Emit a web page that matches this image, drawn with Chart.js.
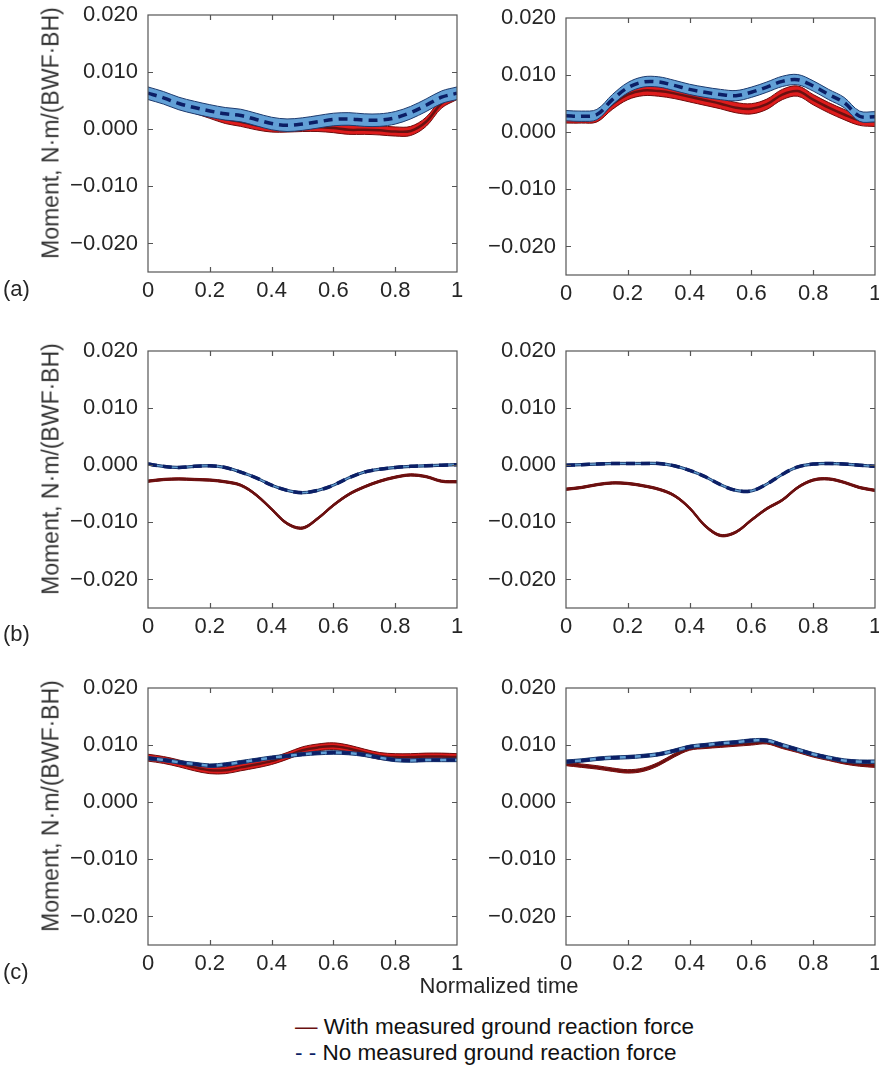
<!DOCTYPE html>
<html>
<head>
<meta charset="utf-8">
<script src="https://cdn.jsdelivr.net/npm/chart.js@4.4.1/dist/chart.umd.min.js"></script>
<style>
  html, body { margin: 0; padding: 0; background: #fff; overflow: hidden; }
  body { width: 879px; height: 1070px; position: relative; font-family: 'Liberation Sans', Arial, sans-serif; color: #262626; }
  .panel { position: absolute; }
  .ytitle { position: absolute; font-size: 23px; white-space: nowrap; transform: translate(-50%, -50%) rotate(-90deg); color: #333; }
  .plabel { position: absolute; font-size: 22px; transform: translateY(-50%); }
  .xtitle { position: absolute; font-size: 22px; transform: translate(-50%, -50%); }
  .legend { position: absolute; left: 295px; font-size: 22.5px; line-height: 26px; color: #111; }
</style>
</head>
<body>
<script>
// time axis and ticks
const timeSteps = [0, 0.05, 0.1, 0.15, 0.2, 0.25, 0.3, 0.35, 0.4, 0.45, 0.5, 0.55, 0.6, 0.65, 0.7, 0.75, 0.8, 0.85, 0.9, 0.95, 1];
const xTickValues = [0, 0.2, 0.4, 0.6, 0.8, 1];
const yTickValues = [-0.02, -0.01, 0, 0.01, 0.02];
const panelLabels = ['(a)', '(b)', '(c)'];
const yTitle = 'Moment, N\u00b7m/(BWF\u00b7BH)';
const xTitle = 'Normalized time';
const legendLabels = ['With measured ground reaction force', 'No measured ground reaction force'];

// mean curves - with measured GRF (red) / no measured GRF (blue)
const withGrfA1 = [0.0062, 0.0054, 0.0044, 0.0036, 0.0027, 0.0018, 0.0013, 0.0007, 0.0003, 0.0003, 0.0004, 0.0004, 0.0002, -0.0001, -0.0001, -0.0002, -0.0004, -0.0003, 0.0013, 0.0045, 0.0060];
const noGrfA1   = [0.0063, 0.0055, 0.0045, 0.0038, 0.0032, 0.0027, 0.0024, 0.0017, 0.0010, 0.0007, 0.0009, 0.0013, 0.0017, 0.0018, 0.0016, 0.0016, 0.0020, 0.0029, 0.0042, 0.0056, 0.0063];
const withGrfA2 = [0.0025, 0.0025, 0.0027, 0.0049, 0.0066, 0.0073, 0.0072, 0.0068, 0.0062, 0.0056, 0.0050, 0.0043, 0.0041, 0.0049, 0.0066, 0.0072, 0.0057, 0.0043, 0.0031, 0.0021, 0.0019];
const noGrfA2   = [0.0029, 0.0028, 0.0031, 0.0057, 0.0078, 0.0088, 0.0088, 0.0082, 0.0075, 0.0070, 0.0066, 0.0064, 0.0070, 0.0079, 0.0089, 0.0092, 0.0081, 0.0066, 0.0052, 0.0028, 0.0027];
const withGrfB1 = [-0.0028, -0.0025, -0.0024, -0.0025, -0.0026, -0.0029, -0.0035, -0.0052, -0.0077, -0.0102, -0.0110, -0.0093, -0.0070, -0.0051, -0.0038, -0.0028, -0.0021, -0.0017, -0.0020, -0.0028, -0.0029];
const noGrfB1   = [0.0002, -0.0002, -0.0004, -0.0002, -0.0001, -0.0004, -0.0012, -0.0022, -0.0035, -0.0044, -0.0048, -0.0044, -0.0035, -0.0022, -0.0012, -0.0007, -0.0004, -0.0002, -0.0001, 0.0000, 0.0001];
const withGrfB2 = [-0.0042, -0.0039, -0.0034, -0.0031, -0.0032, -0.0036, -0.0042, -0.0053, -0.0075, -0.0106, -0.0123, -0.0117, -0.0096, -0.0076, -0.0061, -0.0039, -0.0026, -0.0024, -0.0030, -0.0039, -0.0044];
const noGrfB2   = [0.0000, 0.0001, 0.0002, 0.0003, 0.0003, 0.0003, 0.0003, -0.0001, -0.0009, -0.0020, -0.0034, -0.0044, -0.0045, -0.0033, -0.0016, -0.0003, 0.0002, 0.0003, 0.0002, 0.0000, -0.0002];
const withGrfC1 = [0.0078, 0.0074, 0.0068, 0.0061, 0.0056, 0.0056, 0.0061, 0.0066, 0.0072, 0.0081, 0.0091, 0.0096, 0.0098, 0.0094, 0.0087, 0.0081, 0.0079, 0.0079, 0.0080, 0.0080, 0.0079];
const noGrfC1   = [0.0077, 0.0074, 0.0070, 0.0067, 0.0064, 0.0066, 0.0070, 0.0074, 0.0078, 0.0081, 0.0084, 0.0086, 0.0087, 0.0086, 0.0083, 0.0078, 0.0074, 0.0073, 0.0074, 0.0074, 0.0074];
const withGrfC2 = [0.0067, 0.0064, 0.0061, 0.0057, 0.0054, 0.0057, 0.0067, 0.0082, 0.0094, 0.0097, 0.0099, 0.0101, 0.0103, 0.0105, 0.0097, 0.0090, 0.0082, 0.0076, 0.0070, 0.0066, 0.0064];
const noGrfC2   = [0.0071, 0.0073, 0.0076, 0.0078, 0.0079, 0.0081, 0.0084, 0.0090, 0.0097, 0.0100, 0.0103, 0.0105, 0.0108, 0.0108, 0.0100, 0.0092, 0.0084, 0.0078, 0.0073, 0.0071, 0.0071];

// band half widths (a-left, a-right, b-left, b-right, c-left, c-right)
const bandWithGrf = [0.0008, 0.0009, 0.0002, 0.0002, 0.0006, 0.0003];
const bandNoGrf   = [0.0011, 0.0009, 0.0002, 0.0002, 0.0003, 0.0003];

const RED_FILL = 'rgb(222, 28, 28)';
const RED_EDGE = '#6e0b0b';
const RED_LINE = '#6a1010';
const BLUE_FILL = 'rgb(98, 160, 214)';
const BLUE_EDGE = '#1c3a6e';
const BLUE_LINE = '#0c1f66';
const FONT = "'Liberation Sans', Arial, sans-serif";
const PLOT_H = 257;

const panels = [
    { row: 0, col: 0, top: 15,  withGrf: withGrfA1, noGrf: noGrfA1 },
    { row: 0, col: 1, top: 18,  withGrf: withGrfA2, noGrf: noGrfA2 },
    { row: 1, col: 0, top: 351, withGrf: withGrfB1, noGrf: noGrfB1 },
    { row: 1, col: 1, top: 351, withGrf: withGrfB2, noGrf: noGrfB2 },
    { row: 2, col: 0, top: 688, withGrf: withGrfC1, noGrf: noGrfC1 },
    { row: 2, col: 1, top: 688, withGrf: withGrfC2, noGrf: noGrfC2 }
];

function pts(arr, off) {
    return timeSteps.map((t, i) => ({ x: t, y: arr[i] + off }));
}

function fmtY(v) {
    const s = Math.abs(v).toFixed(3);
    return v < -1e-9 ? '\u2212' + s : s;
}

function fmtX(v) {
    if (v === 0) return '0';
    if (v === 1) return '1';
    return v.toFixed(1);
}

// box + inward ticks like MATLAB axes
const boxPlugin = {
    id: 'boxTicks',
    afterDatasetsDraw(chart) {
        const { ctx, chartArea: a, scales } = chart;
        ctx.save();
        ctx.strokeStyle = '#555';
        ctx.lineWidth = 1.2;
        ctx.strokeRect(a.left, a.top, a.right - a.left, a.bottom - a.top);
        ctx.beginPath();
        for (const t of scales.x.ticks) {
            const px = Math.round(scales.x.getPixelForValue(t.value)) + 0.5;
            if (px <= a.left + 1 || px >= a.right - 1) continue;
            ctx.moveTo(px, a.bottom); ctx.lineTo(px, a.bottom - 5);
            ctx.moveTo(px, a.top); ctx.lineTo(px, a.top + 5);
        }
        for (const t of scales.y.ticks) {
            const py = Math.round(scales.y.getPixelForValue(t.value)) + 0.5;
            if (py <= a.top + 1 || py >= a.bottom - 1) continue;
            ctx.moveTo(a.left, py); ctx.lineTo(a.left + 5, py);
            ctx.moveTo(a.right, py); ctx.lineTo(a.right - 5, py);
        }
        ctx.stroke();
        ctx.restore();
    }
};

panels.forEach((p, idx) => {
    const left = p.col === 0 ? 0 : 480;
    const width = p.col === 0 ? 470 : 399;
    const yWidth = p.col === 0 ? 148 : 86;
    const padRight = p.col === 0 ? 13 : 4;
    const padTop = 14;

    const div = document.createElement('div');
    div.className = 'panel';
    div.style.left = left + 'px';
    div.style.top = (p.top - padTop) + 'px';
    div.style.width = width + 'px';
    div.style.height = (padTop + PLOT_H + 42) + 'px';
    const canvas = document.createElement('canvas');
    div.appendChild(canvas);
    document.body.appendChild(div);

    const bw = bandWithGrf[idx];
    const bn = bandNoGrf[idx];
    const common = { pointRadius: 0, tension: 0.35 };

    new Chart(canvas, {
        type: 'line',
        data: {
            datasets: [
                { ...common, data: pts(p.withGrf, bw), borderColor: RED_EDGE, borderWidth: 1, backgroundColor: RED_FILL, fill: 1, order: 6 },
                { ...common, data: pts(p.withGrf, -bw), borderColor: RED_EDGE, borderWidth: 1, fill: false, order: 5 },
                { ...common, data: pts(p.withGrf, 0), borderColor: RED_LINE, borderWidth: 2.5, fill: false, order: 4 },
                { ...common, data: pts(p.noGrf, bn), borderColor: BLUE_EDGE, borderWidth: 1, backgroundColor: BLUE_FILL, fill: 4, order: 3 },
                { ...common, data: pts(p.noGrf, -bn), borderColor: BLUE_EDGE, borderWidth: 1, fill: false, order: 2 },
                { ...common, data: pts(p.noGrf, 0), borderColor: BLUE_LINE, borderWidth: 3.5, borderDash: [9, 6], fill: false, order: 1 }
            ]
        },
        options: {
            responsive: true,
            maintainAspectRatio: false,
            animation: false,
            events: [],
            layout: { padding: { top: padTop, right: padRight, left: 0, bottom: 0 } },
            plugins: { legend: { display: false }, tooltip: { enabled: false } },
            scales: {
                x: {
                    type: 'linear', min: 0, max: 1,
                    grid: { display: false, drawTicks: false },
                    border: { display: false },
                    afterBuildTicks: s => { s.ticks = xTickValues.map(v => ({ value: v })); },
                    afterFit: s => { s.height = 42; s.paddingLeft = 0; s.paddingRight = 0; },
                    ticks: { padding: 6, maxRotation: 0, autoSkip: false, color: '#262626',
                        font: { family: FONT, size: 22 }, callback: v => fmtX(v) }
                },
                y: {
                    type: 'linear', min: -0.025, max: 0.02,
                    grid: { display: false, drawTicks: false },
                    border: { display: false },
                    afterBuildTicks: s => { s.ticks = yTickValues.map(v => ({ value: v })); },
                    afterFit: s => { s.width = yWidth; s.paddingTop = 0; s.paddingBottom = 0; },
                    ticks: { padding: 10, autoSkip: false, color: '#262626',
                        font: { family: FONT, size: 22 }, callback: v => fmtY(v) }
                }
            }
        },
        plugins: [boxPlugin]
    });

    if (p.col === 0) {
        const t = document.createElement('div');
        t.className = 'ytitle';
        t.textContent = yTitle;
        t.style.left = '51px';
        t.style.top = (p.top + PLOT_H / 2 - 11) + 'px';
        document.body.appendChild(t);
    }
});

// panel letters
[289, 634, 972].forEach((y, i) => {
    const l = document.createElement('div');
    l.className = 'plabel';
    l.textContent = panelLabels[i];
    l.style.left = '3px';
    l.style.top = y + 'px';
    document.body.appendChild(l);
});

const xt = document.createElement('div');
xt.className = 'xtitle';
xt.textContent = xTitle;
xt.style.left = '499px';
xt.style.top = '986px';
document.body.appendChild(xt);

const lg = document.createElement('div');
lg.className = 'legend';
lg.style.top = '1014px';
lg.innerHTML = '<div><span style="color:' + RED_LINE + '">\u2014</span> ' + legendLabels[0] + '</div>' +
    '<div><span style="color:' + BLUE_LINE + '">- -</span> ' + legendLabels[1] + '</div>';
document.body.appendChild(lg);
</script>
</body>
</html>
